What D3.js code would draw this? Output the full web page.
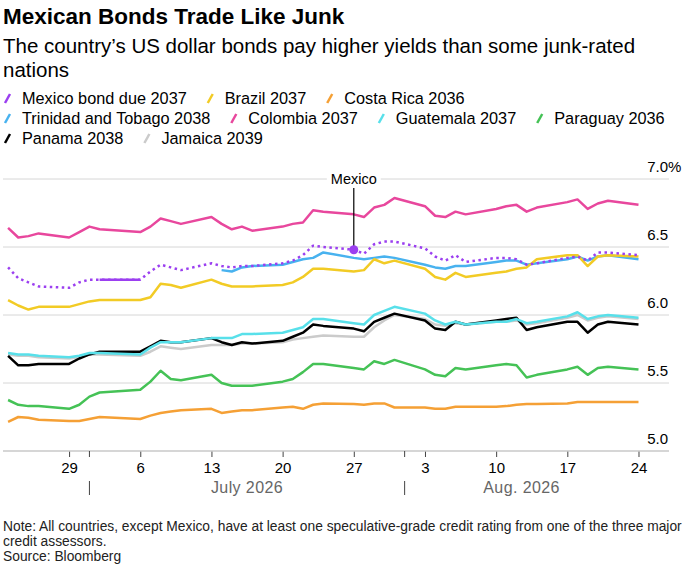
<!DOCTYPE html>
<html>
<head>
<meta charset="utf-8">
<title>Mexican Bonds Trade Like Junk</title>
<script src="https://d3js.org/d3.v7.min.js"></script>
<style>
  body { margin: 0; background: #fff; }
  svg { display: block; font-family: "Liberation Sans", Arial, sans-serif; }
</style>
</head>
<body>
<div id="chart"></div>
<script>
// trading days (Jul 3 holiday has no quotes)
const dates = [
  "2026-06-23", "2026-06-24", "2026-06-25", "2026-06-26",
  "2026-06-29", "2026-06-30", "2026-07-01", "2026-07-02",
  "2026-07-06", "2026-07-07", "2026-07-08", "2026-07-09", "2026-07-10",
  "2026-07-13", "2026-07-14", "2026-07-15", "2026-07-16", "2026-07-17",
  "2026-07-20", "2026-07-21", "2026-07-22", "2026-07-23", "2026-07-24",
  "2026-07-27", "2026-07-28", "2026-07-29", "2026-07-30", "2026-07-31",
  "2026-08-03", "2026-08-04", "2026-08-05", "2026-08-06", "2026-08-07",
  "2026-08-10", "2026-08-11", "2026-08-12", "2026-08-13", "2026-08-14",
  "2026-08-17", "2026-08-18", "2026-08-19", "2026-08-20", "2026-08-21",
  "2026-08-24"
];

const mexico = [6.35, 6.27, 6.24, 6.21, 6.20, 6.24, 6.26, 6.26,
  6.26, 6.32, 6.37, 6.35, 6.33, 6.38, 6.36, 6.35, 6.36, 6.36,
  6.38, 6.40, 6.44, 6.51, 6.50, 6.48, 6.45, 6.52, 6.54, 6.54,
  6.49, 6.43, 6.40, 6.44, 6.39, 6.42, 6.42, 6.41, 6.37, 6.38,
  6.42, 6.43, 6.40, 6.46, 6.46, 6.44];
const brazil = [6.11, 6.07, 6.04, 6.06, 6.06, 6.08, 6.10, 6.11,
  6.11, 6.13, 6.23, 6.22, 6.20, 6.26, 6.23, 6.21, 6.21, 6.21,
  6.22, 6.24, 6.28, 6.34, 6.34, 6.32, 6.33, 6.41, 6.38, 6.40,
  6.34, 6.28, 6.26, 6.31, 6.28, 6.31, 6.32, 6.34, 6.35, 6.41,
  6.44, 6.44, 6.36, 6.43, 6.44, 6.43];
const costaRica = [5.215, 5.25, 5.245, 5.23, 5.22, 5.22, 5.235, 5.25,
  5.235, 5.26, 5.28, 5.29, 5.30, 5.31, 5.28, 5.29, 5.30, 5.30,
  5.32, 5.325, 5.31, 5.34, 5.35, 5.345, 5.34, 5.35, 5.35, 5.32,
  5.32, 5.31, 5.31, 5.325, 5.325, 5.325, 5.33, 5.34, 5.345, 5.345,
  5.35, 5.36, 5.36, 5.36, 5.36, 5.36];
const trinidad = [null, null, null, null, null, null, null, null,
  null, null, null, null, null, null, 6.33, 6.32, 6.35, 6.36,
  6.37, 6.39, 6.41, 6.42, 6.46, 6.42, 6.41, 6.42, 6.43, 6.42,
  6.37, 6.35, 6.34, 6.36, 6.36, 6.39, 6.40, 6.40, 6.37, 6.38,
  6.41, 6.43, 6.40, 6.43, 6.44, 6.41];
const colombia = [6.64, 6.57, 6.58, 6.60, 6.57, 6.61, 6.65, 6.63,
  6.61, 6.65, 6.71, 6.69, 6.67, 6.72, 6.67, 6.63, 6.65, 6.62,
  6.65, 6.67, 6.68, 6.77, 6.76, 6.74, 6.72, 6.79, 6.81, 6.86,
  6.80, 6.73, 6.72, 6.76, 6.74, 6.78, 6.80, 6.81, 6.76, 6.79,
  6.83, 6.85, 6.78, 6.82, 6.84, 6.81];
const guatemala = [5.72, 5.71, 5.71, 5.70, 5.69, 5.70, 5.72, 5.72,
  5.71, 5.76, 5.80, 5.80, 5.80, 5.83, 5.83, 5.83, 5.86, 5.86,
  5.87, 5.89, 5.91, 5.97, 5.97, 5.94, 5.93, 6.00, 6.03, 6.06,
  6.01, 5.96, 5.93, 5.95, 5.93, 5.95, 5.95, 5.97, 5.94, 5.95,
  5.99, 6.02, 5.97, 5.99, 6.00, 5.98];
const paraguay = [5.375, 5.34, 5.33, 5.33, 5.31, 5.34, 5.40, 5.43,
  5.45, 5.51, 5.59, 5.53, 5.52, 5.56, 5.50, 5.48, 5.48, 5.48,
  5.51, 5.53, 5.58, 5.64, 5.64, 5.61, 5.60, 5.66, 5.64, 5.67,
  5.60, 5.56, 5.55, 5.61, 5.60, 5.63, 5.64, 5.63, 5.54, 5.56,
  5.60, 5.62, 5.56, 5.61, 5.62, 5.60];
const panama = [5.70, 5.63, 5.63, 5.64, 5.64, 5.68, 5.71, 5.73,
  5.73, 5.77, 5.81, 5.80, 5.80, 5.83, 5.80, 5.78, 5.80, 5.79,
  5.81, 5.84, 5.87, 5.93, 5.92, 5.90, 5.88, 5.95, 5.98, 6.01,
  5.96, 5.90, 5.89, 5.95, 5.93, 5.96, 5.97, 5.98, 5.89, 5.91,
  5.95, 5.95, 5.87, 5.93, 5.95, 5.93];
const jamaica = [5.71, 5.70, 5.70, 5.69, 5.68, 5.69, 5.71, 5.71,
  5.70, 5.73, 5.77, 5.76, 5.75, 5.78, 5.78, 5.78, 5.79, 5.79,
  5.80, 5.82, 5.83, 5.84, 5.85, 5.84, 5.84, 5.91, 5.96, 6.00,
  5.97, 5.93, 5.92, 5.94, 5.93, 5.95, 5.95, 5.96, 5.93, 5.94,
  5.98, 6.00, 5.96, 5.98, 5.99, 5.97];

const names = ["Mexico bond due 2037", "Brazil 2037", "Costa Rica 2036",
  "Trinidad and Tobago 2038", "Colombia 2037", "Guatemala 2037",
  "Paraguay 2036", "Panama 2038", "Jamaica 2039"];
const colors = ["#9b3ff0", "#f2cb25", "#f5a035", "#48b2ef", "#e8479d",
  "#58e0ea", "#45c256", "#000000", "#cbcbcb"];
const values = [mexico, brazil, costaRica, trinidad, colombia, guatemala,
  paraguay, panama, jamaica];
// back to front
const drawOrder = [8, 2, 6, 7, 5, 4, 3, 1, 0];
const legendRows = [[0, 1, 2], [3, 4, 5, 6], [7, 8]];

const yTicks = [5.0, 5.5, 6.0, 6.5, 7.0];
const xTicks = ["2026-06-29", "2026-07-06", "2026-07-13", "2026-07-20",
  "2026-07-27", "2026-08-03", "2026-08-10", "2026-08-17", "2026-08-24"];
const monthStarts = ["2026-07-01", "2026-08-01"];
const monthLabels = ["July 2026", "Aug. 2026"];
const mexicoSolid = ["2026-07-02", "2026-07-06"];
const mexicoNote = { date: "2026-07-27", label: "Mexico" };

const W = 688, H = 567;
const parse = d3.timeParse("%Y-%m-%d");

const svg = d3.select("#chart").append("svg")
  .attr("width", W)
  .attr("height", H);

const x = d3.scaleTime()
  .domain([new Date(2026, 5, 22, 12), new Date(2026, 7, 27)])
  .range([3, 669]);
const y = d3.scaleLinear()
  .domain([5, 7])
  .range([451, 179]);

// titles
svg.append("text")
  .attr("x", 3).attr("y", 24)
  .style("font-size", "22.5px").style("font-weight", "bold")
  .text("Mexican Bonds Trade Like Junk");
svg.append("text")
  .attr("x", 3).attr("y", 53)
  .style("font-size", "20.5px")
  .text("The country\u2019s US dollar bonds pay higher yields than some junk-rated");
svg.append("text")
  .attr("x", 3).attr("y", 77)
  .style("font-size", "20.5px")
  .text("nations");

// legend
legendRows.forEach((row, r) => {
  let lx = 4;
  const ly = 98 + r * 20;
  row.forEach(i => {
    svg.append("line")
      .attr("x1", lx + 1).attr("y1", ly + 5)
      .attr("x2", lx + 6).attr("y2", ly - 4)
      .attr("stroke", colors[i])
      .attr("stroke-width", 2.5);
    const t = svg.append("text")
      .attr("x", lx + 18).attr("y", ly + 5.5)
      .style("font-size", "16.3px")
      .text(names[i]);
    lx += 18 + t.node().getComputedTextLength() + 20;
  });
});

// grid
svg.append("g").selectAll("line")
  .data(yTicks.filter(v => v > 5))
  .join("line")
  .attr("x1", 3).attr("x2", 669)
  .attr("y1", d => y(d)).attr("y2", d => y(d))
  .attr("stroke", "#d6d6d6")
  .attr("stroke-width", 1);

svg.append("g").selectAll("text")
  .data(yTicks)
  .join("text")
  .attr("x", 668)
  .attr("y", d => y(d) - 7)
  .attr("text-anchor", "end")
  .style("font-size", "15px")
  .text(d => d3.format(".1f")(d));
svg.append("text")
  .attr("x", 668).attr("y", y(7) - 7)
  .style("font-size", "15px")
  .text("%");

// x axis
const xAxis = svg.append("g")
  .attr("transform", `translate(0,${y(5)})`)
  .call(d3.axisBottom(x)
    .tickValues(xTicks.map(parse))
    .tickFormat(d3.timeFormat("%-d"))
    .tickSize(6)
    .tickPadding(5));
xAxis.select(".domain").remove();
xAxis.selectAll(".tick line").attr("stroke", "#444");
xAxis.selectAll(".tick text")
  .style("font-size", "15px")
  .style("font-family", "'Liberation Sans', Arial, sans-serif")
  .attr("fill", "#000");

svg.append("line")
  .attr("x1", 3).attr("x2", 669)
  .attr("y1", y(5)).attr("y2", y(5))
  .attr("stroke", "#c8c8c8")
  .attr("stroke-width", 1.5);

const lastDate = parse(dates[dates.length - 1]);
monthStarts.forEach((m, i) => {
  const mx = x(parse(m));
  svg.append("line")
    .attr("x1", mx).attr("x2", mx)
    .attr("y1", y(5)).attr("y2", y(5) + 6)
    .attr("stroke", "#444");
  svg.append("line")
    .attr("x1", mx).attr("x2", mx)
    .attr("y1", y(5) + 30).attr("y2", y(5) + 44)
    .attr("stroke", "#444");
  const end = i < monthStarts.length - 1 ? x(parse(monthStarts[i + 1])) : x(lastDate);
  svg.append("text")
    .attr("x", (mx + end) / 2)
    .attr("y", y(5) + 42)
    .attr("text-anchor", "middle")
    .attr("fill", "#666")
    .style("font-size", "16px")
    .style("letter-spacing", "0.4px")
    .text(monthLabels[i]);
});

// lines
const line = d3.line()
  .defined(d => d.v != null)
  .x(d => x(d.date))
  .y(d => y(d.v));

const rows = i => dates.map((d, k) => ({ date: parse(d), v: values[i][k] }));

drawOrder.forEach(i => {
  svg.append("path")
    .datum(rows(i))
    .attr("fill", "none")
    .attr("stroke", colors[i])
    .attr("stroke-width", 2.5)
    .attr("stroke-linejoin", "round")
    .attr("stroke-dasharray", i === 0 ? "2.5,3.5" : null)
    .attr("d", line);
});

// Mexico: solid stretch across the holiday gap
const solidRange = mexicoSolid.map(parse);
svg.append("path")
  .datum(rows(0).filter(d => d.date >= solidRange[0] && d.date <= solidRange[1]))
  .attr("fill", "none")
  .attr("stroke", colors[0])
  .attr("stroke-width", 2.5)
  .attr("d", line);

// annotation
const nd = parse(mexicoNote.date);
const nv = mexico[dates.indexOf(mexicoNote.date)];
const ax = x(nd);
const noteG = svg.append("g");
const bg = noteG.append("rect").attr("fill", "#fff");
const lbl = noteG.append("text")
  .attr("x", ax).attr("y", y(7) + 5)
  .attr("text-anchor", "middle")
  .style("font-size", "14.5px")
  .text(mexicoNote.label);
const bb = lbl.node().getBBox();
bg.attr("x", bb.x - 4).attr("y", bb.y)
  .attr("width", bb.width + 8).attr("height", bb.height);
noteG.append("line")
  .attr("x1", ax).attr("x2", ax)
  .attr("y1", y(7) + 9).attr("y2", y(nv))
  .attr("stroke", "#000")
  .attr("stroke-width", 1.2);
noteG.append("circle")
  .attr("cx", ax).attr("cy", y(nv))
  .attr("r", 4.5)
  .attr("fill", colors[0]);

// notes
const notes = [
  "Note: All countries, except Mexico, have at least one speculative-grade credit rating from one of the three major",
  "credit assessors.",
  "Source: Bloomberg"
];
svg.append("g").selectAll("text")
  .data(notes)
  .join("text")
  .attr("x", 3)
  .attr("y", (d, i) => 531 + i * 15)
  .attr("fill", "#222")
  .style("font-size", "13.8px")
  .text(d => d);
</script>
</body>
</html>
